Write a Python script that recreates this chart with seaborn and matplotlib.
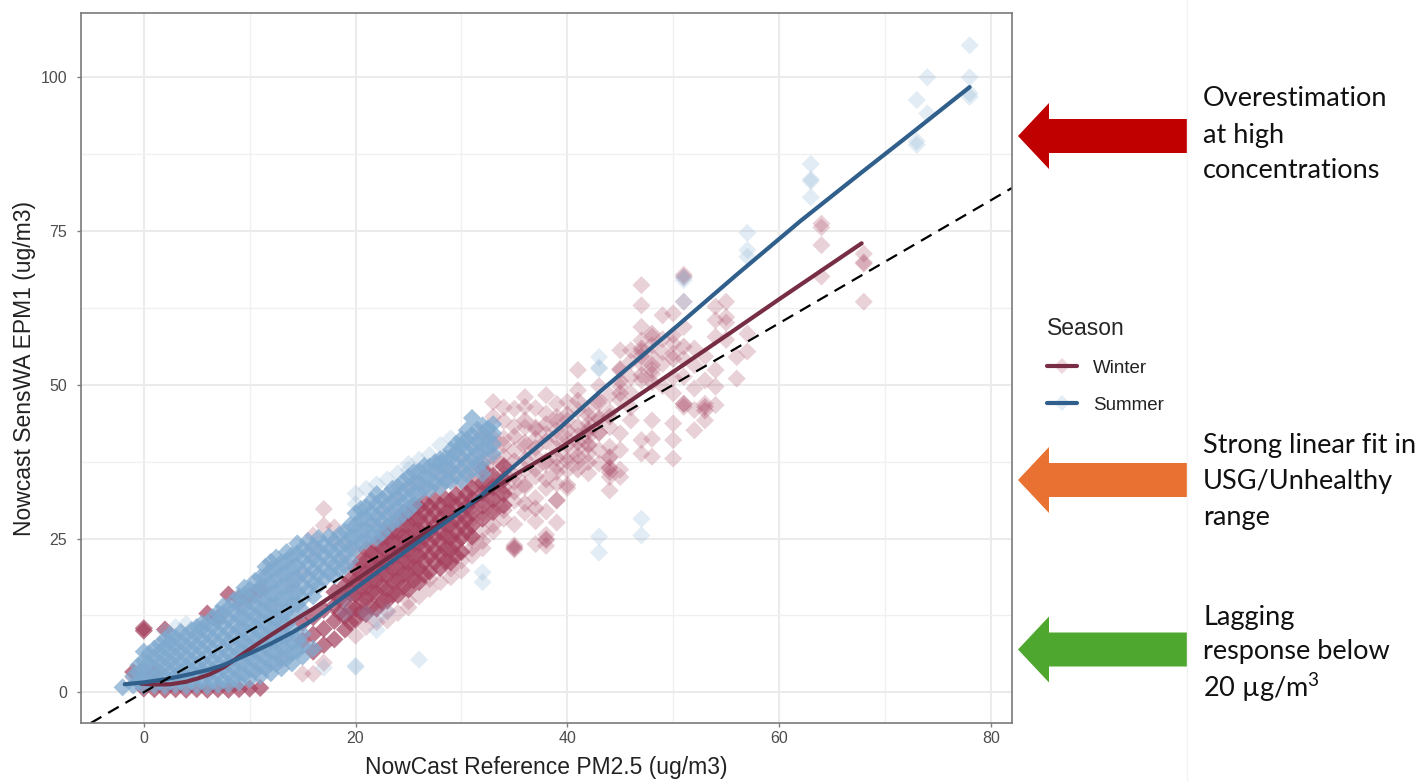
import matplotlib
matplotlib.use('Agg')

import matplotlib.pyplot as plt
import pandas as pd
import seaborn as sns
from matplotlib.legend_handler import HandlerTuple
from matplotlib.lines import Line2D
from matplotlib.patches import Polygon
from matplotlib.ticker import MultipleLocator

# ---- punkty: kolumny x i wartosci y w kazdej kolumnie ----
winter_core_x = [-1, 0, 1, 2, 3, 4, 5, 6, 7, 8, 9, 10, 11, 15, 16, 17, 18, 19, 20, 21, 22, 23, 24, 25, 26, 27, 28, 29, 30]
winter_core_y = [
    [3.3], [10.4, 10.0, 0.6], [0.5, 3.0], [0.4, 10.2], [0.5], [0.4], [0.5], [0.4, 12.8], [0.5, 12.1],
    [0.4, 15.9], [0.5, 15.2], [0.6, 15.6], [0.7, 16.6],
    [8.4, 11.3], [6.6, 9.4, 12.2], [7.7, 10.3, 13.4], [8.6, 11.6, 14.1, 16.3], [10.2, 12.4, 15.1, 17.4],
    [11.8, 13.6, 15.9, 18.1, 20.2], [12.7, 15.2, 17.1, 19.3, 21.4, 23.2], [13.6, 16.1, 18.2, 20.3, 22.1, 24.2],
    [14.9, 16.8, 19.1, 21.2, 23.1, 25.3, 26.9], [15.8, 18.1, 20.2, 22.3, 24.2, 26.1, 28.2],
    [16.7, 19.2, 21.1, 23.3, 25.2, 27.4, 29.1], [17.9, 20.1, 22.2, 24.1, 26.3, 28.2, 30.1],
    [19.6, 22.1, 24.2, 26.1, 28.3, 30.2], [20.2, 22.3, 24.4, 26.2, 28.1, 30.3], [21.1, 23.2, 25.1, 27.3, 29.2, 31.2],
    [22.8, 25.1, 27.2, 29.1, 31.1],
]
winter_fill_x = [18.5, 19.5, 20.5, 21.5, 22.5, 23.5, 24.5, 25.5, 26.5, 27.5, 28.5, 29.5, 30.5, 31, 32, 33, 34]
winter_fill_y = [
    [12.9, 15.2], [11.3, 13.6, 16.1, 18.4], [13.0, 14.9, 17.1, 19.2, 21.3], [13.9, 16.2, 18.2, 20.4, 22.6],
    [14.7, 17.2, 19.3, 21.2, 23.4, 25.1], [15.9, 18.0, 20.1, 22.2, 24.3, 26.2], [17.1, 19.2, 21.3, 23.2, 25.3, 27.4, 29.2],
    [18.2, 20.3, 22.1, 24.3, 26.2, 28.3, 30.4], [19.1, 21.2, 23.3, 25.2, 27.1, 29.3, 31.0], [21.1, 23.1, 25.2, 27.2, 29.3, 31.3],
    [21.3, 23.3, 25.4, 27.3, 29.2, 31.4], [22.2, 24.2, 26.1, 28.2, 30.3, 32.1], [26.2, 28.1, 30.2, 32.3],
    [27.1, 29.2, 31.3, 33.2, 25.3], [28.2, 30.3, 32.4, 34.1, 36.2], [29.3, 31.4, 33.3, 35.2], [30.4, 32.3, 34.6, 36.7],
]
winter_mid_x = [31, 32, 33, 34, 35, 36, 37, 38, 39, 40, 41, 42, 43, 44, 45, 47, 48, 50, 51, 53]
winter_mid_y = [
    [23.4, 30.2, 35.3], [24.6, 31.1, 33.8, 37.2], [27.2, 31.1, 34.6, 38.3, 41.4], [29.6, 33.4, 36.9, 40.2], [23.4, 32.6, 35.2, 37.6, 41.6],
    [30.7, 33.8, 37.9, 40.6, 44.2], [29.9, 36.3, 39.7, 42.8], [24.9, 34.6, 37.6, 40.8, 43.6], [31.2, 35.8, 38.1, 41.3, 44.0], [33.7, 37.6, 40.2, 42.6, 45.2],
    [36.2, 38.4, 40.6, 43.2, 47.4], [37.4, 40.3, 42.8, 45.0], [42.2, 44.6, 47.0], [35.8, 38.2, 36.4, 44.8], [50.6, 52.4, 48.6],
    [51.6, 54.6, 55.9], [53.2, 50.4, 58.3], [54.2, 58.1], [46.9, 56.2], [45.8, 46.4],
]
winter_sparse_x = [-1, 0, 1, 9, 12, 13, 14, 15, 16, 17, 18, 19, 20, 21, 22, 23, 24, 25, 26, 27, 28, 29, 30, 31, 32, 33, 34, 35, 36, 37, 38, 39, 40, 41, 42, 43, 44, 45, 46, 47, 48, 49, 50, 51, 52, 53, 54, 55, 56, 57, 64, 68]
winter_sparse_y = [
    [2.4], [3.2], [4.1], [14.2], [14.1], [5.2], [17.4], [3.0, 19.2], [3.0, 25.5, 23.2], [29.8, 27.1, 4.8], [26.8, 24.6],
    [24.1, 21.2], [23.2, 9.2], [25.1, 10.6], [27.2, 11.4], [11.7, 29.3, 13.2], [31.6, 12.9], [33.4, 14.8, 13.8],
    [34.1, 15.6], [16.8, 33.2, 18.4], [33.4, 17.9, 35.7], [34.8, 18.7, 20.1, 36.1], [19.8, 21.4, 33.4, 38.2, 36.3],
    [22.2, 24.8, 28.1, 31.6, 34.6, 37.4, 40.2], [23.4, 26.2, 29.1, 33.2, 36.4, 39.1, 41.6, 42.2],
    [47.2, 44.8, 40.1, 37.2, 33.6, 29.8, 26.1], [28.2, 32.1, 35.6, 38.4, 41.3, 44.1, 46.3], [23.6, 23.2, 23.9, 27.3, 31.1, 34.2, 39.3, 46.1, 43.2],
    [48.0, 46.4, 43.1, 39.9, 36.2, 33.4, 29.2], [24.1, 27.8, 31.6, 35.1, 38.4, 41.2, 43.1, 46.2], [24.7, 25.6, 23.8, 29.4, 33.2, 37.1, 42.0, 45.3, 48.3],
    [27.6, 31.2, 33.9, 36.7, 39.6, 42.6, 44.8, 46.9], [36.1, 38.3, 41.2, 44.2, 47.2, 33.2], [37.4, 41.7, 45.9, 49.1, 52.4, 39.6],
    [35.6, 38.8, 41.5, 43.7, 46.1, 42.4, 40.1], [47.5, 42.2, 39.4, 37.2, 44.3, 49.8], [32.8, 35.0, 36.6, 38.2, 39.9, 43.1, 45.6, 48.3],
    [35.0, 36.2, 39.4, 47.5, 49.7, 52.6, 55.6, 42.1], [44.2, 48.6, 51.2, 53.8, 55.6, 46.3], [38.8, 41.0, 50.7, 53.4, 55.4, 57.2, 59.4, 62.9, 66.2],
    [38.3, 41.2, 44.2, 51.8, 52.4, 54.6, 57.8, 56.4], [53.4, 49.8, 55.3, 57.4, 61.3], [38.0, 41.0, 43.7, 48.6, 51.2, 55.1, 56.7, 61.6],
    [46.4, 46.9, 51.3, 54.2, 59.4, 63.5, 67.5, 67.9], [42.6, 45.9, 49.4, 55.9, 53.2], [44.2, 46.9, 50.7, 54.6], [46.7, 49.7, 52.4, 57.8, 60.5, 62.7],
    [61.0, 63.5, 60.1, 57.3], [51.0, 54.5], [58.3, 55.4], [76.2, 75.6, 72.7, 67.6], [63.5, 69.7, 69.9, 71.3],
]
summer_core_x = [-2, -1, 0, 1, 2, 3, 4, 5, 6, 7, 8, 9, 10, 11, 12, 13, 14, 15, 16, 17, 18, 19, 20, 21, 22, 23, 24, 25, 26, 27, 28, 29, 30, 31, 32, 33]
summer_core_y = [
    [0.8], [1.1, 2.6], [1.0, 2.4, 3.8, 5.1, 6.6], [1.1, 2.5, 4.0, 5.6, 7.1], [1.0, 2.6, 4.2, 5.7, 7.3, 8.6],
    [1.2, 2.7, 4.3, 5.9, 7.4, 8.9], [1.0, 2.5, 4.1, 5.8, 7.5, 9.2], [1.1, 2.7, 4.4, 6.0, 7.7, 9.4, 10.6],
    [1.0, 2.6, 4.3, 6.1, 7.8, 9.5, 11.2], [1.2, 2.8, 4.5, 6.2, 8.0, 9.8, 11.6, 12.9], [1.3, 2.9, 4.6, 6.4, 8.2, 10.0, 11.9, 13.7],
    [1.6, 3.2, 4.9, 6.7, 8.5, 10.3, 12.2, 14.1, 15.6], [2.1, 3.8, 5.6, 7.4, 9.2, 11.1, 13.0, 14.8, 16.7],
    [2.6, 4.3, 6.1, 7.9, 9.7, 11.6, 13.4, 15.2, 17.1, 18.7], [3.1, 4.8, 6.6, 8.4, 10.3, 12.2, 14.1, 16.0, 17.9, 19.9, 21.2],
    [3.9, 5.6, 7.4, 9.2, 11.1, 13.0, 15.1, 17.2, 19.2, 21.1], [4.7, 6.4, 8.2, 10.1, 12.1, 14.2, 16.3, 18.4, 20.3, 22.3],
    [5.8, 7.6, 9.5, 13.3, 15.2, 17.4, 19.5, 21.6, 23.4], [7.1, 15.6, 17.7, 19.8, 21.7, 23.7],
    [18.3, 20.2, 22.3, 24.1], [18.9, 20.8, 22.7, 24.6], [20.4, 22.3, 24.2, 26.1], [23.4, 25.3, 27.2, 29.1],
    [24.6, 26.4, 28.3, 30.1], [25.1, 26.9, 28.7, 30.6, 32.2], [26.8, 28.6, 30.4, 32.1], [28.1, 29.9, 31.7, 33.4],
    [29.6, 31.4, 33.2, 35.0], [32.3, 34.1, 35.9], [33.0, 34.8, 36.7], [33.4, 35.3, 37.2, 37.9], [34.3, 36.2, 38.1, 39.4],
    [34.4, 36.3, 38.2, 40.1, 41.2], [36.1, 38.0, 39.9, 41.8, 44.6], [35.5, 37.4, 39.3, 41.2, 43.4], [38.8, 40.4, 42.1, 43.6],
]
summer_fill_x = [-0.5, 0.5, 1.5, 2.5, 3.5, 4.5, 5.5, 6.5, 7.5, 8.5, 9.5, 10.5, 11.5, 12.5, 13.5, 14.5, 15.5, 16.5, 17.5, 18.5, 19.5, 20.5, 21.5, 22.5, 23.5, 24.5, 25.5, 26.5, 27.5, 28.5, 29.5, 30.5, 31.5, 32.5]
summer_fill_y = [
    [1.7, 3.2, 4.4], [1.6, 3.1, 4.7, 6.3], [1.7, 3.2, 4.8, 6.4, 7.8], [1.8, 3.4, 5.0, 6.5, 8.1, 9.4],
    [1.7, 3.3, 4.9, 6.6, 8.2, 9.8], [1.8, 3.5, 5.1, 6.9, 8.4, 10.1], [1.9, 3.6, 5.2, 6.9, 8.6, 10.3, 11.2],
    [1.8, 3.5, 5.3, 7.0, 8.8, 10.6, 12.2], [2.0, 3.7, 5.5, 7.2, 9.0, 10.9, 12.7, 14.0], [2.2, 3.9, 5.7, 7.5, 9.3, 11.2, 13.1, 14.9],
    [2.9, 4.7, 6.5, 8.3, 10.2, 12.1, 13.9, 15.8, 17.0], [3.4, 5.2, 7.0, 8.8, 10.7, 12.5, 14.3, 16.2, 18.1],
    [3.9, 5.7, 7.5, 9.4, 11.3, 13.1, 15.0, 17.0, 18.9, 20.4], [4.6, 6.5, 8.3, 10.2, 12.1, 14.1, 16.1, 18.2, 20.1, 21.9],
    [5.5, 7.3, 9.1, 11.1, 13.1, 15.2, 17.3, 19.4, 21.3, 22.8], [6.7, 8.5, 14.3, 16.3, 18.5, 20.6, 22.5, 24.2],
    [16.6, 18.7, 20.8, 22.6, 24.6], [17.3, 19.2, 21.2, 23.2, 25.1], [19.3, 21.3, 23.2, 25.3],
    [19.9, 21.7, 23.6, 25.7], [21.4, 23.4, 25.2, 27.2], [24.3, 26.2, 28.1, 29.8], [25.4, 27.3, 29.2, 31.1],
    [25.9, 27.8, 29.6, 31.4], [27.6, 29.4, 31.2, 33.1], [29.0, 30.8, 32.6, 34.3], [30.5, 32.3, 34.1, 35.8],
    [33.2, 35.0, 36.8], [34.0, 35.9, 37.4], [34.4, 36.3, 38.1], [35.3, 37.2, 39.1, 40.4], [35.4, 37.3, 39.2, 41.1, 42.6],
    [37.1, 38.9, 40.8, 42.7], [39.6, 41.3, 42.9],
]
summer_sparse_x = [2, 3, 4, 17, 19, 20, 21, 22, 23, 24, 25, 26, 27, 28, 29, 32, 43, 47, 51, 57, 63, 73, 74, 78]
summer_sparse_y = [
    [9.9], [10.6], [11.1], [4.0], [15.1, 12.9], [4.1, 4.3, 32.3, 30.6], [12.8, 33.1], [10.1, 33.8, 11.9], [34.6, 13.1], [35.6], [36.2, 37.1],
    [5.3, 37.8], [38.6], [40.2], [41.3], [17.9, 19.5], [22.7, 25.3, 52.6, 52.8, 54.5], [25.5, 28.2], [63.5, 67.0, 67.5],
    [70.8, 71.9, 74.7], [80.5, 83.1, 83.4, 85.9], [89.0, 89.6, 96.3], [94.1, 100.0], [96.8, 97.4, 100.0, 105.2],
]

# krzywe wygladzone
winter_line_x = [-0.3, 1, 2.5, 4, 5, 6.2, 7.5, 10, 12, 14.1, 16, 19.2, 25.5, 31.8, 35, 39.3, 43.1, 47, 50, 55.7, 60, 67.8]
winter_line_y = [1.4, 1.25, 1.3, 1.7, 2.2, 2.9, 4.0, 7.0, 9.3, 11.6, 13.6, 17.3, 24.7, 31.6, 35.3, 39.7, 44.0, 48.6, 52.1, 58.8, 63.9, 73.0]
summer_line_x = [-1.8, 0, 2, 4, 6, 7.5, 10, 12, 14.1, 16, 18, 20, 25.5, 28, 30, 32, 35, 39.3, 43.1, 50, 56, 62, 67.7, 72, 78]
summer_line_y = [1.3, 1.6, 2.1, 2.8, 3.6, 4.4, 6.3, 7.9, 9.8, 11.8, 14.4, 16.9, 23.9, 27.0, 29.5, 32.2, 36.8, 43.0, 48.9, 59.0, 67.9, 76.6, 84.4, 90.2, 98.4]

x_ticks = [0, 20, 40, 60, 80]
y_ticks = [0, 25, 50, 75, 100]
seasons = ['Winter', 'Summer']
season_colors = {'Winter': '#A5405E', 'Summer': '#7FA9CF'}
line_colors = {'Winter': '#772E45', 'Summer': '#2F5F8A'}


def points(cols, vals, season):
    rows = [(x, y) for x, ys in zip(cols, vals) for y in ys]
    df = pd.DataFrame(rows, columns=['x', 'y'])
    df['season'] = season
    return df


W, H = 1419, 781


def px(x, y):
    return x / W, 1 - y / H


sns.set_theme(style='whitegrid')
plt.rcParams['font.family'] = ['Liberation Sans', 'DejaVu Sans']
plt.rcParams['mathtext.default'] = 'regular'

fig = plt.figure(figsize=(W / 100, H / 100), dpi=100)
ax = fig.add_axes([81 / W, 1 - 723 / H, (1012 - 81) / W, (723 - 13) / H])

layers = [
    (points(winter_sparse_x, winter_sparse_y, 'Winter'), 0.24),
    (points(winter_mid_x, winter_mid_y, 'Winter'), 0.3),
    (points(winter_core_x, winter_core_y, 'Winter'), 0.7),
    (points(winter_fill_x, winter_fill_y, 'Winter'), 0.7),
    (points(summer_sparse_x, summer_sparse_y, 'Summer'), 0.22),
    (points(summer_core_x, summer_core_y, 'Summer'), 0.72),
    (points(summer_fill_x, summer_fill_y, 'Summer'), 0.72),
]
for df, a in layers:
    sns.scatterplot(data=df, x='x', y='y', hue='season', palette=season_colors, marker='D',
                    s=85, alpha=a, linewidth=0, legend=False, ax=ax)

line_df = pd.concat([
    pd.DataFrame({'x': winter_line_x, 'y': winter_line_y, 'season': 'Winter'}),
    pd.DataFrame({'x': summer_line_x, 'y': summer_line_y, 'season': 'Summer'}),
])
sns.lineplot(data=line_df, x='x', y='y', hue='season', hue_order=seasons, palette=line_colors,
             estimator=None, sort=False, linewidth=3, legend=False, ax=ax)
ax.axline((0, 0), slope=1, color='black', lw=1.6, dashes=(5.5, 3.5))

ax.set_xlim(-5.93, 82.0)
ax.set_ylim(-5.0, 110.45)
ax.set_xticks(x_ticks)
ax.set_yticks(y_ticks)
ax.xaxis.set_minor_locator(MultipleLocator(10))
ax.yaxis.set_minor_locator(MultipleLocator(12.5))
ax.grid(which='major', color='#EBEBEB', lw=1.5)
ax.grid(which='minor', color='#F0F0F0', lw=1.0)
ax.tick_params(which='major', length=3, width=1, color='#7F7F7F', labelcolor='#4D4D4D', labelsize=11.5, pad=3, bottom=True, left=True)
ax.tick_params(axis='y', which='major', pad=7)
ax.tick_params(which='minor', length=0)
for s in ax.spines.values():
    s.set_color('#7A7A7A')
    s.set_linewidth(1.2)
ax.set_xlabel('NowCast Reference PM2.5 (ug/m3)', fontsize=16.5, color='#222222', labelpad=7)
ax.set_ylabel('Nowcast SensWA EPM1 (ug/m3)', fontsize=16.5, color='#222222', labelpad=3)

# legenda: blady romb pod linia
handles = []
for name in seasons:
    diamond = Line2D([], [], marker='D', ms=8.5, mew=0, ls='none', color=season_colors[name], alpha=0.2)
    stroke = Line2D([], [], color=line_colors[name], lw=3)
    handles.append((diamond, stroke))
leg = fig.legend(handles, seasons, title='Season', loc='upper left', bbox_to_anchor=px(1030, 300),
                 frameon=False, fontsize=13.5, title_fontsize=16.5, alignment='left',
                 handler_map={tuple: HandlerTuple(ndivide=1, pad=0)},
                 handlelength=1.6, labelspacing=1.05, handletextpad=0.85)
for t in leg.get_texts():
    t.set_color('#222222')

# strzalki i opisy po prawej stronie
fig.add_artist(Line2D([1187 / W, 1187 / W], [0, 1], color='#F3F3F3', lw=1))
arrows = [(136, '#C00000'), (480, '#E97132'), (649.5, '#4EA72E')]
for cy, col in arrows:
    pts = [px(1018, cy), px(1049, cy - 33), px(1049, cy - 17), px(1187, cy - 17),
           px(1187, cy + 17), px(1049, cy + 17), px(1049, cy + 33)]
    fig.add_artist(Polygon(pts, closed=True, transform=fig.transFigure, facecolor=col, edgecolor='none'))

notes = [
    (99, 'Overestimation'), (135, 'at high'), (170, 'concentrations'),
    (446, 'Strong linear fit in'), (481, 'USG/Unhealthy'), (517, 'range'),
    (617, 'Lagging'), (652, 'response below'), (688, '20 µg/m$^{3}$'),
]
for y, label in notes:
    fx, fy = px(1203, y)
    fig.text(fx, fy, label, fontsize=19.5, family=['Lato', 'DejaVu Sans'], color='#111111', va='center', ha='left')

fig.savefig('out.png', dpi=100)
